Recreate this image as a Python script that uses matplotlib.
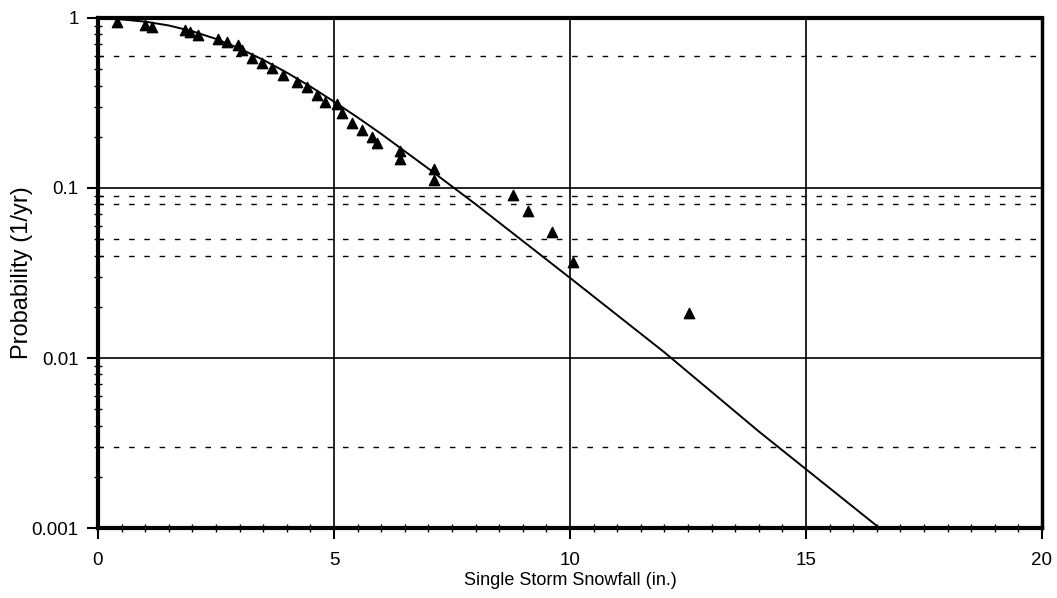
import matplotlib
matplotlib.use("Agg")
import matplotlib.pyplot as plt
from matplotlib.ticker import FixedLocator, LogLocator, NullFormatter, MultipleLocator

plt.rcParams["font.family"] = ["Liberation Sans", "DejaVu Sans"]

obs_x = [0.40, 1.00, 1.14, 1.84, 1.95, 2.12, 2.54, 2.73, 2.97, 3.05,
         3.26, 3.47, 3.69, 3.92, 4.22, 4.43, 4.64, 4.81, 5.06, 5.17,
         5.38, 5.59, 5.80, 5.91, 6.40, 6.40, 7.12, 7.12, 8.79, 9.11,
         9.62, 10.06, 12.52]
obs_y = [0.95, 0.91, 0.89, 0.85, 0.83, 0.79, 0.75, 0.72, 0.69, 0.65,
         0.58, 0.54, 0.51, 0.46, 0.42, 0.39, 0.35, 0.32, 0.31, 0.276,
         0.241, 0.219, 0.199, 0.184, 0.165, 0.148, 0.129, 0.112, 0.091, 0.073,
         0.055, 0.0367, 0.0183]

# fitted curve (runs out through the bottom axis)
fit_x = [0.0, 0.5, 1.0, 1.5, 2.0, 2.5, 3.0, 3.5, 4.0, 4.5,
         5.0, 5.5, 6.0, 7.0, 8.0, 10.0, 12.0, 14.0, 16.5, 17.0]
fit_y = [0.993, 0.980, 0.951, 0.903, 0.835, 0.753, 0.661, 0.567, 0.477, 0.395,
         0.322, 0.260, 0.208, 0.130, 0.0803, 0.0296, 0.0108, 0.0037, 0.00103, 0.00080]

# dotted minor grid levels that survived the scan
dash_levels = [0.6, 0.09, 0.08, 0.05, 0.04, 0.003]

x_ticks = [0, 5, 10, 15, 20]
y_ticks = [0.001, 0.01, 0.1, 1]
y_labels = ["0.001", "0.01", "0.1", "1"]

fig = plt.figure(figsize=(10.57, 5.98), dpi=100)
ax = fig.add_axes([0.0927, 0.117, 0.8931, 0.853])

ax.set_yscale("log")
ax.set_xlim(0, 20)
ax.set_ylim(0.001, 1)

# grid
for lv in dash_levels:
    ax.axhline(lv, color="black", lw=1.0, ls=(0, (4, 7)), zorder=1)
for yv in y_ticks[1:-1]:
    ax.axhline(yv, color="black", lw=1.2, zorder=1)
for xv in x_ticks[1:-1]:
    ax.axvline(xv, color="black", lw=1.2, zorder=1)

ax.plot(fit_x, fit_y, color="black", lw=1.4, zorder=3)
ax.scatter(obs_x, obs_y, marker="^", s=55, color="black", zorder=4)

ax.xaxis.set_major_locator(FixedLocator(x_ticks))
ax.xaxis.set_minor_locator(MultipleLocator(0.5))
ax.set_xticklabels([str(v) for v in x_ticks])
ax.yaxis.set_major_locator(FixedLocator(y_ticks))
ax.set_yticklabels(y_labels)
ax.yaxis.set_minor_locator(LogLocator(base=10, subs=range(2, 10)))
ax.yaxis.set_minor_formatter(NullFormatter())

ax.tick_params(axis="both", which="major", direction="out", length=8, width=1.5,
               labelsize=13.5)
ax.tick_params(axis="x", which="major", pad=9)
ax.tick_params(axis="y", which="major", pad=6)
ax.tick_params(axis="both", which="minor", direction="inout", length=6, width=1.0)
ax.tick_params(top=False, right=False, which="both")

for side in ["top", "bottom", "left"]:
    ax.spines[side].set_linewidth(3)
ax.spines["right"].set_linewidth(2.5)

ax.set_xlabel("Single Storm Snowfall (in.)", fontsize=13, va="center")
ax.xaxis.set_label_coords(0.5, -0.102)
ax.set_ylabel("Probability (1/yr)", fontsize=17, va="center")
ax.yaxis.set_label_coords(-0.081, 0.5)

fig.savefig("out.png", dpi=100)
